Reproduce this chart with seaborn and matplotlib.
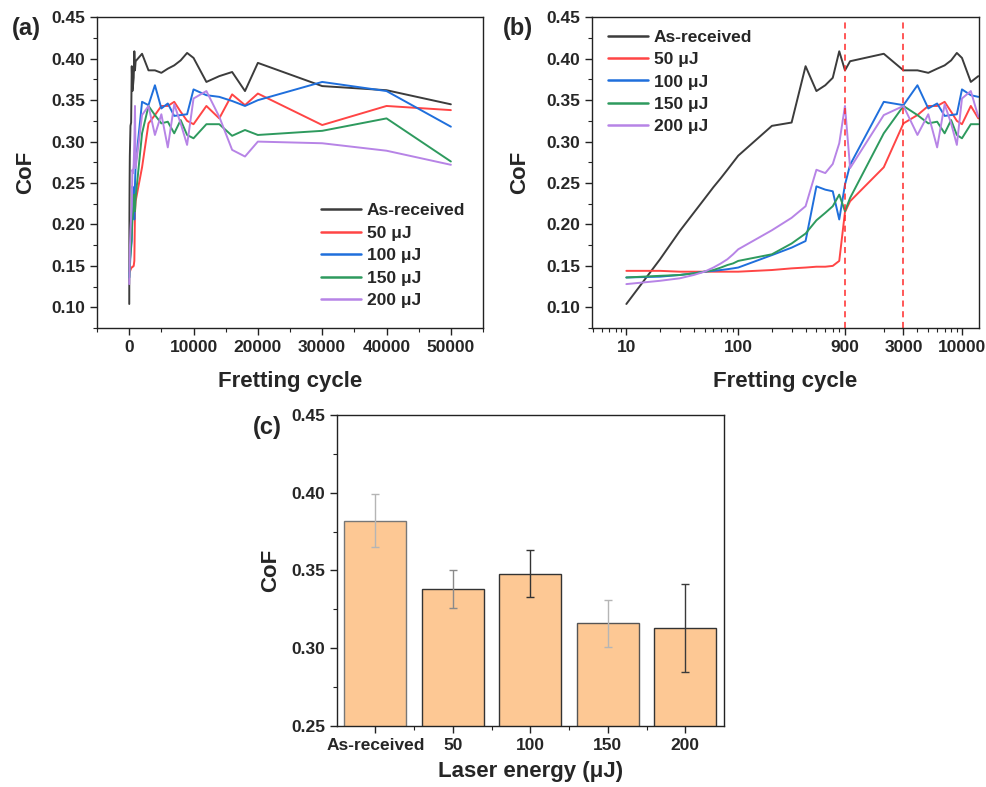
import matplotlib
matplotlib.use("Agg")
import matplotlib.pyplot as plt
from matplotlib.ticker import MultipleLocator, FixedLocator, FixedFormatter, FormatStrFormatter, LogLocator, NullFormatter
import numpy as np
import pandas as pd
import seaborn as sns

# ---- fretting test data -------------------------------------------------
cycles = [10, 20, 30, 40, 50, 60, 70, 80, 90, 100,
          200, 300, 400, 500, 600, 700, 800, 900, 1000,
          2000, 3000, 4000, 5000, 6000, 7000, 8000, 9000, 10000,
          12000, 14000, 16000, 18000, 20000, 30000, 40000, 50000]

as_received = [0.104, 0.158, 0.192, 0.214, 0.231, 0.245, 0.256, 0.266, 0.275, 0.283,
               0.319, 0.323, 0.391, 0.361, 0.368, 0.377, 0.409, 0.386, 0.397,
               0.406, 0.386, 0.386, 0.383, 0.388, 0.392, 0.398, 0.407, 0.401,
               0.372, 0.379, 0.384, 0.361, 0.395, 0.367, 0.362, 0.345]
uj50 = [0.144, 0.144, 0.143, 0.143, 0.143, 0.143, 0.143, 0.143, 0.143, 0.143,
        0.145, 0.147, 0.148, 0.149, 0.149, 0.150, 0.156, 0.215, 0.228,
        0.269, 0.322, 0.332, 0.343, 0.343, 0.348, 0.336, 0.325, 0.321,
        0.343, 0.328, 0.357, 0.344, 0.358, 0.320, 0.343, 0.338]
uj100 = [0.136, 0.137, 0.139, 0.141, 0.143, 0.144, 0.145, 0.146, 0.147, 0.148,
         0.163, 0.172, 0.180, 0.246, 0.242, 0.240, 0.206, 0.248, 0.272,
         0.348, 0.344, 0.368, 0.340, 0.346, 0.331, 0.332, 0.333, 0.363,
         0.356, 0.354, 0.349, 0.343, 0.350, 0.372, 0.361, 0.318]
uj150 = [0.136, 0.138, 0.139, 0.141, 0.143, 0.145, 0.148, 0.151, 0.153, 0.156,
         0.164, 0.177, 0.189, 0.205, 0.214, 0.222, 0.236, 0.216, 0.232,
         0.310, 0.343, 0.332, 0.322, 0.324, 0.310, 0.326, 0.308, 0.304,
         0.321, 0.321, 0.307, 0.314, 0.308, 0.313, 0.328, 0.276]
uj200 = [0.128, 0.132, 0.135, 0.139, 0.143, 0.148, 0.153, 0.158, 0.164, 0.170,
         0.193, 0.208, 0.222, 0.266, 0.262, 0.273, 0.298, 0.343, 0.268,
         0.332, 0.343, 0.308, 0.333, 0.293, 0.345, 0.322, 0.296, 0.352,
         0.361, 0.330, 0.290, 0.282, 0.300, 0.298, 0.289, 0.272]

series_names = ["As-received", "50 μJ", "100 μJ", "150 μJ", "200 μJ"]
series_colors = ["#3c3c3c", "#ff4545", "#1f6fdc", "#2e9a5e", "#b784e6"]

# ---- average CoF per laser energy -----------------------------------------
energies = ["As-received", "50", "100", "150", "200"]
mean_cof = [0.382, 0.338, 0.348, 0.316, 0.313]
cof_err = [0.017, 0.012, 0.015, 0.015, 0.028]

log_ticks = [10, 100, 900, 3000, 10000]
marker_cycles = [900, 3000]

# long-form table for seaborn
frames = []
for name, vals in zip(series_names, [as_received, uj50, uj100, uj150, uj200]):
    frames.append(pd.DataFrame({"cycle": cycles, "CoF": vals, "sample": name}))
cof_df = pd.DataFrame(pd.concat(frames, ignore_index=True))
bar_df = pd.DataFrame({"energy": energies, "CoF": mean_cof})

sns.set_style("ticks")
plt.rcParams["font.family"] = ["Liberation Sans", "DejaVu Sans"]
plt.rcParams["font.weight"] = "bold"
plt.rcParams["axes.linewidth"] = 1.0

fig = plt.figure(figsize=(9.86, 7.87), dpi=100)
ax_a = fig.add_axes([0.0984, 0.5832, 0.3915, 0.3948])
ax_b = fig.add_axes([0.6001, 0.5832, 0.3928, 0.3948])
ax_c = fig.add_axes([0.3415, 0.0775, 0.3928, 0.3952])

tick_fs = 12.5
label_fs = 16
palette = dict(zip(series_names, series_colors))


def style_axis(ax):
    for sp in ax.spines.values():
        sp.set_visible(True)
        sp.set_color("#222222")
        sp.set_linewidth(1.0)
    ax.tick_params(axis="both", which="major", direction="out", length=5, width=1,
                   labelsize=tick_fs, top=False, right=False, color="#222222")
    ax.tick_params(axis="both", which="minor", direction="out", length=3, width=0.8,
                   top=False, right=False, color="#222222")
    for lab in ax.get_xticklabels() + ax.get_yticklabels():
        lab.set_fontweight("bold")


def style_legend(leg):
    for t in leg.get_texts():
        t.set_fontweight("bold")
    for h in leg.get_lines():
        h.set_linewidth(1.8)


# (a) linear cycle axis
sns.lineplot(data=cof_df, x="cycle", y="CoF", hue="sample", hue_order=series_names,
             palette=palette, estimator=None, linewidth=1.4, ax=ax_a)
ax_a.set_xlim(-5000, 55000)
ax_a.set_ylim(0.075, 0.45)
ax_a.xaxis.set_major_locator(FixedLocator([0, 10000, 20000, 30000, 40000, 50000]))
ax_a.xaxis.set_minor_locator(MultipleLocator(5000))
ax_a.yaxis.set_major_locator(MultipleLocator(0.05))
ax_a.yaxis.set_minor_locator(MultipleLocator(0.025))
ax_a.yaxis.set_major_formatter(FormatStrFormatter("%.2f"))
ax_a.set_xlabel("Fretting cycle", fontsize=label_fs, fontweight="bold", labelpad=12)
ax_a.set_ylabel("CoF", fontsize=label_fs, fontweight="bold", labelpad=11)
style_axis(ax_a)
leg = ax_a.legend(loc="lower right", bbox_to_anchor=(0.985, 0.025), frameon=False,
                  fontsize=tick_fs, handlelength=2.3, handletextpad=0.35,
                  labelspacing=0.42, borderpad=0.2)
style_legend(leg)

# (b) logarithmic cycle axis
sns.lineplot(data=cof_df[cof_df["cycle"] <= 14000], x="cycle", y="CoF", hue="sample",
             hue_order=series_names, palette=palette, estimator=None, linewidth=1.4, ax=ax_b)
ax_b.set_xscale("log")
ax_b.set_xlim(4.9, 14200)
ax_b.set_ylim(0.075, 0.45)
for c in marker_cycles:
    ax_b.axvline(c, color="#ff2a2a", linestyle=(0, (4, 3)), linewidth=1.1)
ax_b.xaxis.set_major_locator(FixedLocator(log_ticks))
ax_b.xaxis.set_major_formatter(FixedFormatter([str(v) for v in log_ticks]))
ax_b.xaxis.set_minor_locator(LogLocator(base=10, subs=np.arange(2, 10), numticks=20))
ax_b.xaxis.set_minor_formatter(NullFormatter())
ax_b.yaxis.set_major_locator(MultipleLocator(0.05))
ax_b.yaxis.set_minor_locator(MultipleLocator(0.025))
ax_b.yaxis.set_major_formatter(FormatStrFormatter("%.2f"))
ax_b.set_xlabel("Fretting cycle", fontsize=label_fs, fontweight="bold", labelpad=12)
ax_b.set_ylabel("CoF", fontsize=label_fs, fontweight="bold", labelpad=11)
style_axis(ax_b)
leg = ax_b.legend(loc="upper left", bbox_to_anchor=(0.01, 1.0), frameon=False,
                  fontsize=tick_fs, handlelength=2.3, handletextpad=0.35,
                  labelspacing=0.42, borderpad=0.2)
style_legend(leg)

# (c) mean CoF by laser energy
sns.barplot(data=bar_df, x="energy", y="CoF", order=energies, color="#fdc894",
            saturation=1, width=0.8, errorbar=None, ax=ax_c)
edge_cols = ["#777777", "#333333", "#333333", "#555555", "#333333"]
for patch, ec in zip(ax_c.patches, edge_cols):
    patch.set_edgecolor(ec)
    patch.set_linewidth(1.0)
err_cols = ["#b5b5b5", "#8a8a8a", "#333333", "#b5b5b5", "#3a3a3a"]
for i, (m, e, ec) in enumerate(zip(mean_cof, cof_err, err_cols)):
    ax_c.errorbar(i, m, yerr=e, color=ec, capsize=3, elinewidth=1.0, capthick=1.0, fmt="none")
ax_c.set_xlim(-0.5, 4.5)
ax_c.set_ylim(0.25, 0.45)
ax_c.xaxis.set_minor_locator(FixedLocator([0.5, 1.5, 2.5, 3.5]))
ax_c.yaxis.set_major_locator(MultipleLocator(0.05))
ax_c.yaxis.set_minor_locator(MultipleLocator(0.025))
ax_c.yaxis.set_major_formatter(FormatStrFormatter("%.2f"))
ax_c.set_xlabel("Laser energy (μJ)", fontsize=label_fs, fontweight="bold", labelpad=6)
ax_c.set_ylabel("CoF", fontsize=label_fs, fontweight="bold", labelpad=7)
style_axis(ax_c)

# panel letters
fig.text(0.012, 0.955, "(a)", fontsize=17, fontweight="bold")
fig.text(0.510, 0.955, "(b)", fontsize=17, fontweight="bold")
fig.text(0.256, 0.449, "(c)", fontsize=17, fontweight="bold")

fig.savefig("out.png", dpi=100, facecolor="white")
